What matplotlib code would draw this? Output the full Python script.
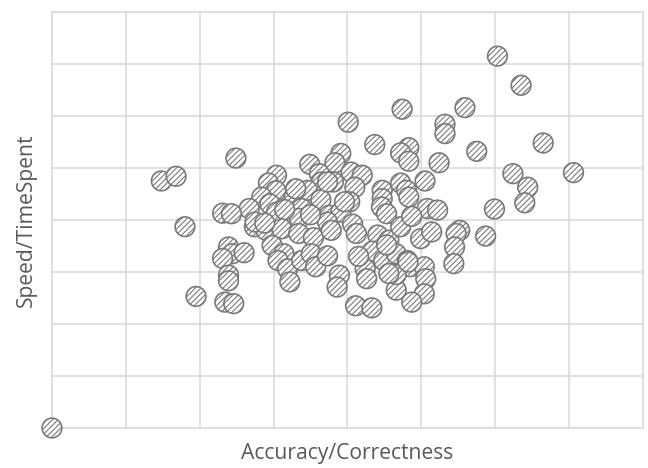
import numpy as np
import matplotlib.pyplot as plt

# ========= Data (grid units 0..8) =========
accuracy = [
    6.03, 6.35, 4.74, 5.59, 4.01, 5.32, 5.32, 4.37, 6.65, 5.75,
    4.83, 4.72, 4.83, 2.49, 3.91, 3.83, 3.49, 5.24, 7.06, 1.48,
    1.68, 3.04, 2.93, 3.62, 3.65, 3.81, 4.05, 4.20, 4.10, 4.47,
    4.47, 4.72, 4.80, 4.83, 5.05, 6.24, 6.44, 6.40, 5.99, 3.03,
    2.84, 3.28, 3.46, 3.64, 4.03, 4.46, 4.53, 5.08, 5.22, 2.67,
    2.31, 2.43, 2.95, 3.04, 3.38, 3.35, 3.75, 3.91, 1.80, 2.74,
    2.90, 3.11, 3.34, 3.54, 3.73, 3.78, 4.07, 4.12, 4.41, 4.56,
    4.72, 4.87, 4.99, 5.14, 5.52, 5.47, 5.87, 5.45, 5.44, 2.98,
    3.14, 3.06, 3.19, 3.22, 3.38, 3.51, 3.57, 3.73, 2.39, 2.44,
    2.60, 2.31, 2.39, 2.39, 4.34, 4.49, 4.66, 4.81, 4.85, 5.04,
    5.06, 5.04, 4.87, 4.66, 4.66, 4.56, 4.24, 4.26, 3.89, 3.86,
    1.95, 2.34, 2.46, 4.11, 4.33, 0.00,
    2.75, 2.88, 3.96, 4.53, 3.73, 3.15, 3.50, 4.82, 3.30, 4.15,
]
speed = [
    7.15, 6.59, 6.13, 6.16, 5.88, 5.84, 5.66, 5.45, 5.48, 5.32,
    5.39, 5.29, 5.13, 5.19, 5.28, 5.10, 5.07, 5.10, 4.91, 4.75,
    4.84, 4.86, 4.71, 4.89, 4.73, 4.73, 4.92, 4.86, 4.63, 4.57,
    4.41, 4.71, 4.57, 4.44, 4.75, 4.89, 4.63, 4.33, 4.21, 4.56,
    4.44, 4.44, 4.57, 4.39, 4.35, 4.25, 4.12, 4.22, 4.19, 4.22,
    4.13, 4.12, 4.31, 4.15, 4.22, 4.03, 4.09, 4.15, 3.87, 3.87,
    3.80, 3.83, 3.74, 3.66, 3.96, 3.80, 3.92, 3.74, 3.71, 3.61,
    3.87, 4.07, 3.64, 3.77, 3.80, 3.74, 3.69, 3.48, 3.16, 3.51,
    3.35, 3.22, 3.06, 2.81, 3.22, 3.35, 3.10, 3.31, 3.48, 3.35,
    3.37, 3.26, 2.94, 2.83, 3.40, 3.22, 3.35, 3.22, 3.10, 3.10,
    2.87, 2.58, 2.42, 2.65, 2.95, 2.97, 3.06, 2.87, 2.94, 2.71,
    2.53, 2.42, 2.39, 2.35, 2.31, 0.00,
    3.96, 3.94, 4.35, 3.52, 4.73, 4.20, 4.10, 3.19, 4.60, 3.30,
]

grid_color = "#d9d9d9"
text_color = "#595959"

plt.rcParams['hatch.linewidth'] = 0.8

# ========= Plot =========
fig = plt.figure(figsize=(6.48, 4.68), dpi=100)
ax = fig.add_axes([0.0802, 0.0855, 0.912, 0.889])

ax.scatter(accuracy, speed, s=200, facecolor="white", edgecolor="#7a7a7a",
           hatch="//////", linewidths=1.2, zorder=3, clip_on=False)

ax.set_xlim(0, 8)
ax.set_ylim(0, 8)
ax.set_xticks(np.arange(0, 9, 1))
ax.set_yticks(np.arange(0, 9, 1))
ax.tick_params(length=0, labelbottom=False, labelleft=False)
ax.grid(True, color=grid_color, linewidth=1.1)
ax.set_axisbelow(True)
for sp in ax.spines.values():
    sp.set_color(grid_color)
    sp.set_linewidth(1.1)

ax.set_xlabel("Accuracy/Correctness", fontsize=15.2, color=text_color,
              family="Open Sans", labelpad=11)
ax.set_ylabel("Speed/TimeSpent", fontsize=15.2, color=text_color,
              family="Open Sans", labelpad=11)

fig.savefig("out.png", dpi=100)
